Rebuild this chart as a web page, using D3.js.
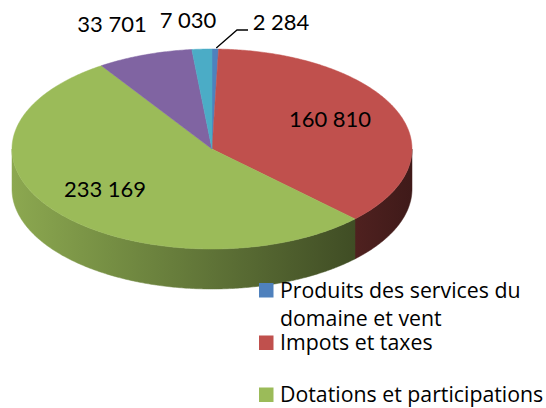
<!DOCTYPE html>
<html><head><meta charset="utf-8">
<script src="https://cdn.jsdelivr.net/npm/d3@7"></script>
<style>html,body{margin:0;padding:0;background:#fff;}svg{display:block;}</style>
</head><body>
<svg id="c" width="546" height="408"></svg>
<script>
const categories = ["Produits des services du domaine et vent", "Impots et taxes", "Dotations et participations", "Autres produits", "Produits financiers"];
const values = [2284, 160810, 233169, 33701, 7030];
const valueLabels = ["2 284", "160 810", "233 169", "33 701", "7 030"];
const colors = ["#4F81BD", "#C0504D", "#9BBB59", "#8064A2", "#4BACC6"];
const legendLines = [["Produits des services du", "domaine et vent"], ["Impots et taxes"], ["Dotations et participations"]];

const svg = d3.select("#c");
const cx = 212, cy = 149, rx = 200, ry = 100, depth = 40;
const font = "Lato, 'Open Sans', sans-serif";
const legendFont = "'Open Sans', Lato, sans-serif";

const pie = d3.pie().sort(null).startAngle(0).endAngle(2 * Math.PI);
const arcs = pie(values);

const px = a => cx + rx * Math.sin(a);
const py = a => cy - ry * Math.cos(a);

function curve(a0, a1, dy) {
  const n = Math.max(2, Math.ceil(Math.abs(a1 - a0) / 0.01));
  const pts = [];
  for (let i = 0; i <= n; i++) {
    const a = a0 + (a1 - a0) * i / n;
    pts.push([px(a), py(a) + dy]);
  }
  return pts;
}

// side gradients
const defs = svg.append("defs");
const shade = d3.scaleLinear().domain([cx - rx, cx + rx]).range([0.9, 0.33]);
colors.forEach((c, i) => {
  const g = defs.append("linearGradient").attr("id", "side" + i)
    .attr("gradientUnits", "userSpaceOnUse")
    .attr("x1", cx - rx).attr("x2", cx + rx).attr("y1", 0).attr("y2", 0);
  const base = d3.rgb(c);
  [0, 0.25, 0.5, 0.75, 1].forEach(t => {
    const x = cx - rx + t * 2 * rx;
    const f = shade(x);
    g.append("stop").attr("offset", t)
      .attr("stop-color", d3.rgb(base.r * f, base.g * f, base.b * f).formatHex());
  });
});

const line = d3.line();

// side walls (front half: angles between PI/2 and 3PI/2)
arcs.forEach((d, i) => {
  const s = Math.max(d.startAngle, Math.PI / 2);
  const e = Math.min(d.endAngle, 3 * Math.PI / 2);
  if (e <= s) return;
  const top = curve(s, e, 0);
  const bot = curve(e, s, depth);
  svg.append("path").attr("d", line(top.concat(bot)) + "Z")
    .attr("fill", `url(#side${i})`).attr("stroke", `url(#side${i})`).attr("stroke-width", 0.5);
});

// top faces
arcs.forEach((d, i) => {
  const pts = [[cx, cy]].concat(curve(d.startAngle, d.endAngle, 0));
  svg.append("path").attr("d", line(pts) + "Z")
    .attr("fill", colors[i]).attr("stroke", colors[i]).attr("stroke-width", 0.5);
});

// data labels
const labelPos = [[281, 30], [330, 127], [105, 197], [112, 32], [188, 28]];
valueLabels.forEach((t, i) => {
  svg.append("text").attr("x", labelPos[i][0]).attr("y", labelPos[i][1])
    .attr("text-anchor", "middle").attr("font-family", font).attr("font-size", 22)
    .attr("fill", "#000").text(t);
});

// leader line for smallest slice
const mid = (arcs[0].startAngle + arcs[0].endAngle) / 2;
svg.append("path")
  .attr("d", line([[px(mid) + 1, py(mid) - 1], [237, 30], [248, 30]]))
  .attr("fill", "none").attr("stroke", "#000").attr("stroke-width", 1.3);

// legend
const legendY = [297.5, 350, 402];
legendLines.forEach((lines, i) => {
  const y = legendY[i];
  svg.append("rect").attr("x", 259).attr("y", y - 14.5).attr("width", 14.5).attr("height", 14.5)
    .attr("fill", colors[i]);
  const t = svg.append("text").attr("x", 280).attr("y", y)
    .attr("font-family", legendFont).attr("font-size", 21.3).attr("fill", "#000");
  lines.forEach((l, j) => {
    t.append("tspan").attr("x", 280).attr("dy", j === 0 ? 0 : 28.5).text(l);
  });
});
</script>
</body></html>
